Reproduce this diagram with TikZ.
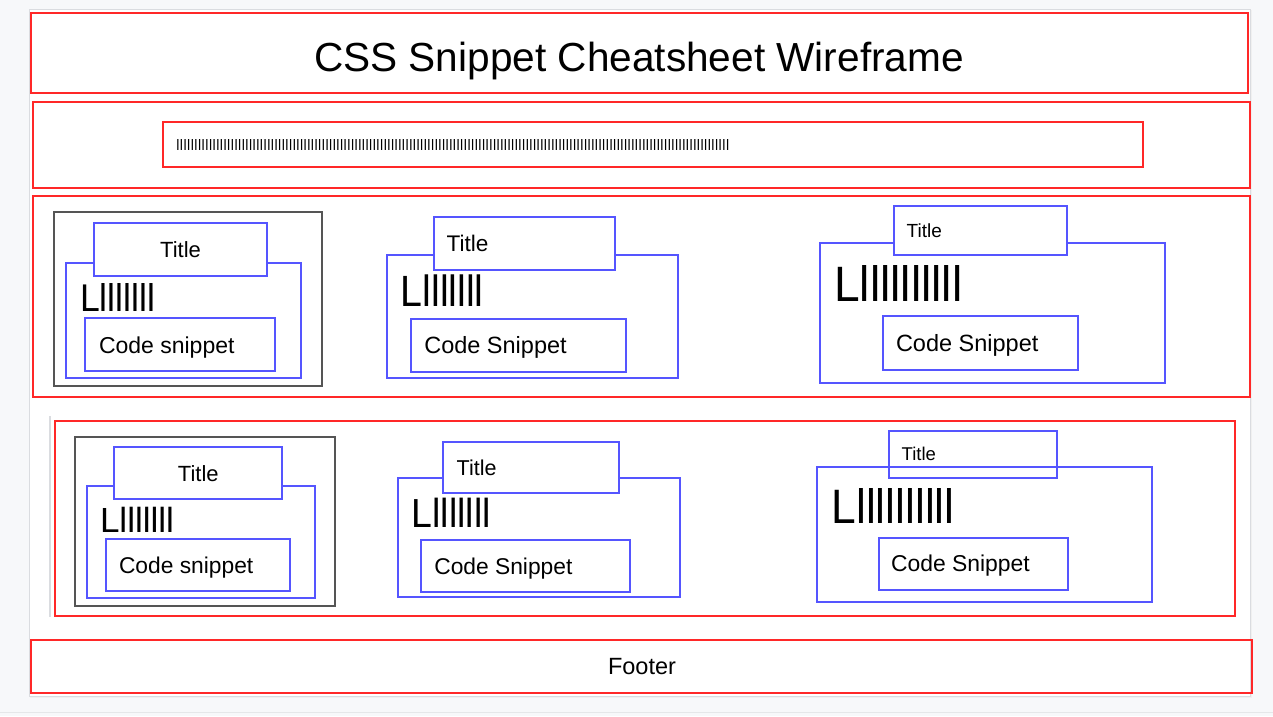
\documentclass[tikz,border=0pt]{standalone}
\usepackage{fontspec}
\setmainfont{Liberation Sans}
\usepackage{graphicx}
\definecolor{wfred}{RGB}{255,40,40}
\definecolor{wfblue}{RGB}{85,85,255}
\definecolor{wfgray}{RGB}{85,85,85}
\definecolor{canvas}{RGB}{247,248,250}
\definecolor{pageedge}{RGB}{218,220,224}
\newcommand{\fsz}[1]{\fontsize{#1}{#1}\selectfont}
\newcommand{\Iten}{IIIIIIIIII}
\newcommand{\Irun}{\Iten\Iten\Iten\Iten\Iten\Iten\Iten\Iten\Iten\Iten\Iten\Iten\Iten\Iten\Iten II}
\newcommand{\Lseven}{Lllllll\kern0pt l}
\newcommand{\Lten}{Lllllllllll}
\newcommand{\wbox}[6]{\node[#6, minimum width={(#4)-(#2)}, minimum height={(#5)-(#3)}] (#1) at (#2,#3) {};}
\tikzset{
  box/.style={draw, inner sep=0pt, outer sep=0pt, anchor=north west},
  redbox/.style={box, draw=wfred, line width=2pt},
  bluebox/.style={box, draw=wfblue, line width=2pt},
  titlebox/.style={bluebox, fill=white},
  graybox/.style={box, draw=wfgray, line width=1.8pt},
  lbl/.style={inner sep=0pt, outer sep=0pt, anchor=base west, text=black},
  clbl/.style={inner sep=0pt, outer sep=0pt, anchor=base, text=black},
}
\begin{document}
\begin{tikzpicture}[x=1pt,y=-1pt]
\useasboundingbox (0,0) rectangle (1273,716);
\fill[canvas] (0,0) rectangle (1273,716);
% page
\fill[black!6] (30,10) rectangle (1252,698);
\fill[white] (29,9) rectangle (1250,696);
\draw[pageedge, line width=1pt] (29,9) rectangle (1250,696);
\draw[pageedge!70, line width=1pt] (0,712) -- (1273,712);

% header
\wbox{header}{31}{13}{1248}{93}{redbox}
\node[clbl] (headtxt) at (639,71) {\fsz{40.6}CSS Snippet Cheatsheet Wireframe};

% search bar
\wbox{search}{33}{102}{1250}{188}{redbox}
\wbox{searchin}{163}{122}{1143}{167}{redbox}
\node[lbl] (searchtxt) at (176,150.5) {\resizebox{553pt}{11pt}{\Irun}};

% row 1
\wbox{rowa}{33}{196}{1250}{397}{redbox}
% card 1
\wbox{a1}{54}{212}{322}{386}{graybox}
\wbox{a1o}{66}{263}{301}{378}{bluebox}
\wbox{a1t}{94}{223}{267}{276}{titlebox}
\node[clbl] (a1tt) at (180.5,257.3) {\fsz{22}Title};
\node[lbl] (a1l) at (80,311) {\resizebox{75pt}{28pt}{\Lseven}};
\wbox{a1c}{85}{318}{275}{371}{bluebox}
\node[lbl] (a1ct) at (99,353.3) {\fsz{23}Code snippet};
% card 2
\wbox{a2o}{387}{255}{678}{378}{bluebox}
\wbox{a2t}{434}{217}{615}{270}{titlebox}
\node[lbl] (a2tt) at (446.7,251.7) {\fsz{22.6}Title};
\node[lbl] (a2l) at (400.7,306.7) {\resizebox{83pt}{31.7pt}{\Lseven}};
\wbox{a2c}{411}{319}{626}{372}{bluebox}
\node[lbl] (a2ct) at (424.3,353.3) {\fsz{23.5}Code Snippet};
% card 3
\wbox{a3o}{820}{243}{1165}{383}{bluebox}
\wbox{a3t}{894}{206}{1067}{255}{titlebox}
\node[lbl] (a3tt) at (906.7,237.3) {\fsz{19}Title};
\node[lbl] (a3l) at (834.3,301.7) {\resizebox{128pt}{36pt}{\Lten}};
\wbox{a3c}{883}{316}{1078}{370}{bluebox}
\node[lbl] (a3ct) at (896,351) {\fsz{23.5}Code Snippet};

% row 2
\draw[pageedge, line width=1.4pt] (50,416) -- (50,617);
\wbox{rowb}{55}{421}{1235}{616}{redbox}
% card 1
\wbox{b1}{75}{437}{335}{606}{graybox}
\wbox{b1o}{87}{486}{315}{598}{bluebox}
\wbox{b1t}{114}{447}{282}{499}{titlebox}
\node[clbl] (b1tt) at (198.3,481) {\fsz{22}Title};
\node[lbl] (b1l) at (100,532.7) {\resizebox{74pt}{25.3pt}{\Lseven}};
\wbox{b1c}{106}{539}{290}{591}{bluebox}
\node[lbl] (b1ct) at (119,573.3) {\fsz{22.8}Code snippet};
% card 2
\wbox{b2o}{398}{478}{680}{597}{bluebox}
\wbox{b2t}{443}{442}{619}{493}{titlebox}
\node[lbl] (b2tt) at (456.7,475) {\fsz{21.5}Title};
\node[lbl] (b2l) at (411.7,527.7) {\resizebox{79pt}{29.4pt}{\Lseven}};
\wbox{b2c}{421}{540}{630}{592}{bluebox}
\node[lbl] (b2ct) at (434.3,574) {\fsz{22.8}Code Snippet};
% card 3
\wbox{b3o}{817}{467}{1152}{602}{bluebox}
\wbox{b3t}{889}{431}{1057}{478}{bluebox}
\node[lbl] (b3tt) at (901.7,460.7) {\fsz{18.5}Title};
\node[lbl] (b3l) at (831.7,523.3) {\resizebox{123pt}{35pt}{\Lten}};
\wbox{b3c}{879}{538}{1068}{590}{bluebox}
\node[lbl] (b3ct) at (891,571.7) {\fsz{22.9}Code Snippet};

% footer
\wbox{footer}{31}{640}{1252}{693}{redbox}
\node[clbl] (foottxt) at (642,674.4) {\fsz{23.5}Footer};
\end{tikzpicture}
\end{document}
